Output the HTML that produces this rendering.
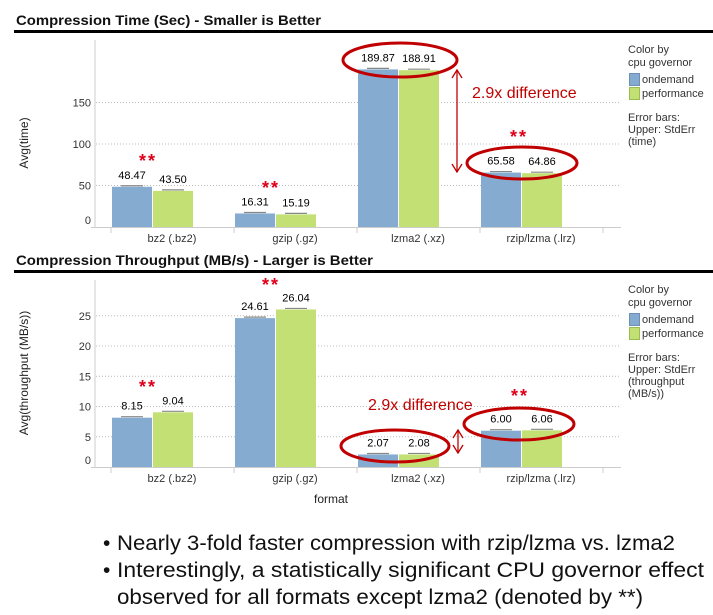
<!DOCTYPE html>
<html><head><meta charset="utf-8"><style>
html,body{margin:0;padding:0;background:#fff;}
svg{display:block;font-family:"Liberation Sans",sans-serif;}
</style></head><body>
<svg id="chart" width="713" height="615" viewBox="0 0 713 615">
</svg>
<script>
const categories = ["bz2 (.bz2)", "gzip (.gz)", "lzma2 (.xz)", "rzip/lzma (.lrz)"];
const timeOndemand = [48.47, 16.31, 189.87, 65.58];
const timePerformance = [43.50, 15.19, 188.91, 64.86];
const thrOndemand = [8.15, 24.61, 2.07, 6.00];
const thrPerformance = [9.04, 26.04, 2.08, 6.06];
const timeTicks = [0, 50, 100, 150];
const thrTicks = [0, 5, 10, 15, 20, 25];

const NS = "http://www.w3.org/2000/svg";
const svg = document.getElementById("chart");
function mk(tag, attrs, parent, text) {
  const e = document.createElementNS(NS, tag);
  for (const k in attrs) e.setAttribute(k, attrs[k]);
  if (text !== undefined) e.textContent = text;
  (parent || svg).appendChild(e);
  return e;
}
const BLUE = "#85abd0", GREEN = "#c3e075", RED = "#c00000";

function panel(p) {
  const g = mk("g", {});
  
  
  const y = v => p.base - v * p.scale;
  const catX = i => 111 + i * 123;
  const t = mk("text", {x: 16, y: p.titleY, "font-size": 14, "font-weight": "bold", fill: "#111", textLength: p.titleLen, lengthAdjust: "spacingAndGlyphs"}, g, p.title);
  
  
  mk("rect", {x: 14, y: p.titleY + 5, width: 699, height: 3, fill: "#000"}, g);
  p.ticks.forEach(v => {
    if (v > 0) {
      const gl = mk("line", {x1: 96, x2: 621, y1: y(v), y2: y(v), stroke: "#bbb", "stroke-dasharray": "1,2"}, g);
      
      
    }
    const tl = mk("text", {x: 91, y: y(v) + (v === 0 ? -3 : 4), "font-size": 11, "text-anchor": "end", fill: "#333"}, g, v);
    
    
  });
  mk("line", {x1: 95, x2: 95, y1: p.top, y2: p.base + 1, stroke: "#ccc"}, g);
  mk("line", {x1: 91, x2: 621, y1: p.base + 0.5, y2: p.base + 0.5, stroke: "#ccc"}, g);
  for (let i = 0; i <= categories.length; i++)
    mk("line", {x1: catX(i), x2: catX(i), y1: p.base, y2: p.base + 6, stroke: "#ccc"}, g);
  const yt = mk("text", {x: 0, y: 0, "font-size": 12, "text-anchor": "middle", fill: "#222", transform: `translate(28,${p.ytitleY}) rotate(-90)`}, g, p.ytitle);
  
  
  categories.forEach((c, i) => {
    const cx = catX(i);
    const cl = mk("text", {x: cx + 61, y: p.base + 15, "font-size": 11, "text-anchor": "middle", fill: "#333"}, g, c);
    
    
    [[p.a[i], BLUE, cx + 1, "bar-ondemand"], [p.b[i], GREEN, cx + 42, "bar-performance"]].forEach(([v, col, x, nm]) => {
      const r = mk("rect", {x: x, y: y(v), width: 40, height: p.base - y(v), fill: col}, g);
      
      
      mk("line", {x1: x + 9, x2: x + 31, y1: y(v) - 1, y2: y(v) - 1, stroke: "#888", "stroke-width": 1.2}, g);
      const vl = mk("text", {x: x + 20, y: y(v) - 8, "font-size": 11, "text-anchor": "middle", fill: "#000"}, g, v.toFixed(2));
      
      
    });
  });
  const lg = mk("g", {}, g);
  
  
  mk("text", {x: 628, y: p.legY, "font-size": 11, fill: "#333"}, lg, "Color by");
  mk("text", {x: 628, y: p.legY + 13, "font-size": 11, fill: "#333"}, lg, "cpu governor");
  [["ondemand", BLUE, "#6b8fb5"], ["performance", GREEN, "#9cbb50"]].forEach(([n, c, s], k) => {
    const e = mk("g", {}, lg);
    
    
    mk("rect", {x: 629.5, y: p.legY + 20.5 + k * 14, width: 10, height: 12, fill: c, stroke: s}, e);
    mk("text", {x: 642, y: p.legY + 30 + k * 14, "font-size": 11, fill: "#333"}, e, n);
  });
  p.err.forEach((l, k) => mk("text", {x: 628, y: p.legY + 68 + k * 12, "font-size": 11, fill: "#333"}, lg, l));
}

panel({name: "time-chart", title: "Compression Time (Sec) - Smaller is Better", titleY: 25, titleLen: 305, top: 40, base: 227, scale: 0.83,
  ticks: timeTicks, a: timeOndemand, b: timePerformance, ytitle: "Avg(time)", ytitleY: 143, legY: 53,
  err: ["Error bars:", "Upper: StdErr", "(time)"]});
panel({name: "throughput-chart", title: "Compression Throughput (MB/s) - Larger is Better", titleY: 265, titleLen: 357, top: 280, base: 467, scale: 6.05,
  ticks: thrTicks, a: thrOndemand, b: thrPerformance, ytitle: "Avg(throughput (MB/s))", ytitleY: 373, legY: 293,
  err: ["Error bars:", "Upper: StdErr", "(throughput", "(MB/s))"]});

const xt = mk("text", {x: 331, y: 503, "font-size": 12, "text-anchor": "middle", fill: "#222"}, svg, "format");



const ann = mk("g", {fill: "none", stroke: "#c00000", "stroke-width": 3});


[[400,60,57,17],[522,163,55,16],[395,446,54,16],[519,424,55,16]].forEach(e => {
  const el = mk("ellipse", {cx: e[0], cy: e[1], rx: e[2], ry: e[3]}, ann);
  
  
});
function arrow(x, y1, y2) {
  const a = mk("g", {stroke: RED, "stroke-width": 1.3, fill: "none"});
  
  
  mk("line", {x1: x, x2: x, y1: y1, y2: y2}, a);
  mk("polyline", {points: `${x-5},${y1+8} ${x},${y1} ${x+5},${y1+8}`}, a);
  mk("polyline", {points: `${x-5},${y2-8} ${x},${y2} ${x+5},${y2-8}`}, a);
}
arrow(457, 70, 172);
arrow(458, 430, 453);
[[472, 98], [368, 410]].forEach(([x, y]) => {
  const d = mk("text", {x: x, y: y, "font-size": 16, fill: RED}, svg, "2.9x difference");
  
  
});
[[148,167],[271,194],[519,143],[148,393],[271,291],[520,402]].forEach(([x, y]) => {
  const s = mk("text", {x: x, y: y, "font-size": 18, "font-weight": "bold", "text-anchor": "middle", fill: "#e0001a", "letter-spacing": "2"}, svg, "**");
  
  
});

const bt = mk("g", {"font-size": 21, fill: "#111"});


mk("text", {x: 103, y: 550}, bt, "•");
mk("text", {x: 117, y: 550, textLength: 558, lengthAdjust: "spacingAndGlyphs"}, bt, "Nearly 3-fold faster compression with rzip/lzma vs. lzma2");
mk("text", {x: 103, y: 577}, bt, "•");
mk("text", {x: 117, y: 577, textLength: 587, lengthAdjust: "spacingAndGlyphs"}, bt, "Interestingly, a statistically significant CPU governor effect");
mk("text", {x: 117, y: 604, textLength: 526, lengthAdjust: "spacingAndGlyphs"}, bt, "observed for all formats except lzma2 (denoted by **)");
</script>
</body></html>
